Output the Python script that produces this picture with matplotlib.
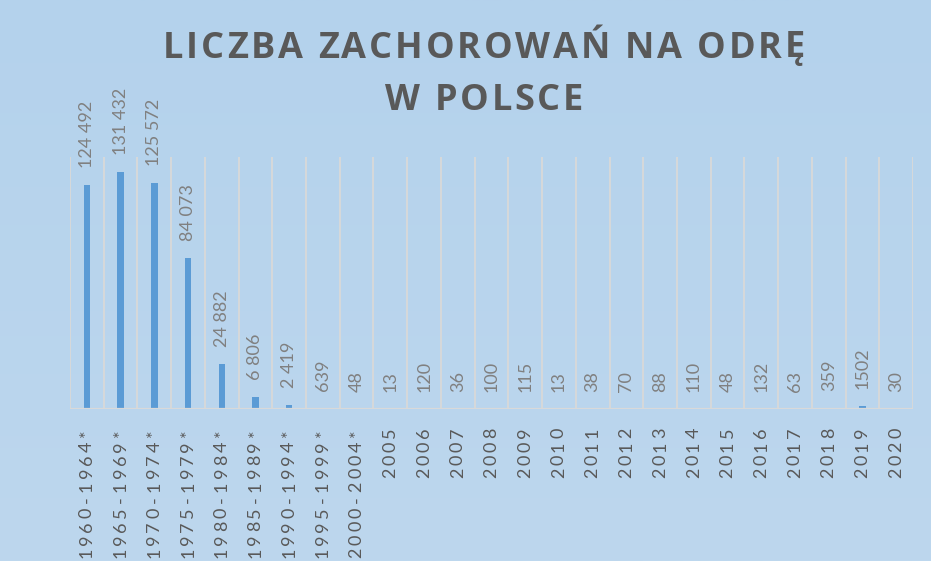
import numpy as np
import matplotlib
matplotlib.use('Agg')
import matplotlib.pyplot as plt
from matplotlib.font_manager import FontProperties

categories = ['1960-1964*', '1965-1969*', '1970-1974*', '1975-1979*', '1980-1984*',
              '1985-1989*', '1990-1994*', '1995-1999*', '2000-2004*',
              '2005', '2006', '2007', '2008', '2009', '2010', '2011', '2012',
              '2013', '2014', '2015', '2016', '2017', '2018', '2019', '2020']
values = [124492, 131432, 125572, 84073, 24882, 6806, 2419, 639, 48,
          13, 120, 36, 100, 115, 13, 38, 70, 88, 110, 48, 132, 63, 359, 1502, 30]
value_labels = ['124 492', '131 432', '125 572', '84 073', '24 882', '6 806', '2 419', '639', '48',
                '13', '120', '36', '100', '115', '13', '38', '70', '88', '110', '48', '132',
                '63', '359', '1502', '30']
title_lines = ['LICZBA ZACHOROWAŃ NA ODRĘ', 'W POLSCE']

W, H = 931, 561
fig = plt.figure(figsize=(W / 100, H / 100), dpi=100)

# background gradient
bg = fig.add_axes([0, 0, 1, 1], zorder=0)
top = np.array([180, 210, 236]) / 255
bot = np.array([189, 215, 238]) / 255
t = np.linspace(0, 1, 256)[:, None]
grad = (top[None, :] * (1 - t) + bot[None, :] * t)[:, None, :]
bg.imshow(grad, aspect='auto', extent=[0, 1, 0, 1])
bg.axis('off')

L, R, T, B = 70, 913, 157, 409
ax = fig.add_axes([L / W, 1 - B / H, (R - L) / W, (B - T) / H], zorder=1)
ax.patch.set_alpha(0)
x = np.arange(len(categories))
ax.set_xlim(-0.5, len(categories) - 0.5)
ax.set_ylim(0, 140000)

grid_c = '#D9D9D9'
for b in np.arange(-0.5, len(categories)):
    ax.axvline(b, color=grid_c, lw=1.3, zorder=1)
ax.axhline(0, color=grid_c, lw=1.6, zorder=3)

ax.bar(x, values, width=0.19, color='#5B9BD5', zorder=2)

for s in ax.spines.values():
    s.set_visible(False)
ax.set_xticks([])
ax.set_yticks([])

fp_val = FontProperties(family='Lato', size=13)
for i, (v, lbl) in enumerate(zip(values, value_labels)):
    ax.annotate(lbl, xy=(i, v), xytext=(0, 17), textcoords='offset pixels',
                rotation=90, ha='center', va='bottom', color='#808080',
                fontproperties=fp_val, annotation_clip=False)

# category labels with letter spacing
step = 13.3
start = 426.5 - B
for i, cat in enumerate(categories):
    for j, ch in enumerate(reversed(cat)):
        ax.annotate(ch, xy=(i, 0), xycoords=('data', 'axes fraction'),
                    xytext=(0, -(start + step * (j + 0.5))), textcoords='offset pixels',
                    rotation=90, ha='center', va='center', color='#595959',
                    fontproperties=fp_val, annotation_clip=False)

# title with letter spacing
fp_t = FontProperties(family='Open Sans', weight='bold', size=26)
renderer = fig.canvas.get_renderer()

def widths(s):
    out = []
    for ch in s:
        w, h, d = renderer.get_text_width_height_descent(ch, fp_t, ismath=False)
        if ch == ' ':
            w = renderer.get_text_width_height_descent('a a', fp_t, ismath=False)[0] - \
                renderer.get_text_width_height_descent('aa', fp_t, ismath=False)[0]
        out.append(w)
    return out

w1 = widths(title_lines[0])
sp = (642 - sum(w1)) / (len(w1) - 1)
cx = 484
baselines = [57.5, 110]
for line, base in zip(title_lines, baselines):
    ws = widths(line)
    total = sum(ws) + sp * (len(ws) - 1)
    xp = cx - total / 2
    for ch, w in zip(line, ws):
        fig.text(xp / W, 1 - base / H, ch, fontproperties=fp_t, ha='left',
                 va='baseline', color='#595959', zorder=3)
        xp += w + sp

fig.savefig('out.png', dpi=100)
